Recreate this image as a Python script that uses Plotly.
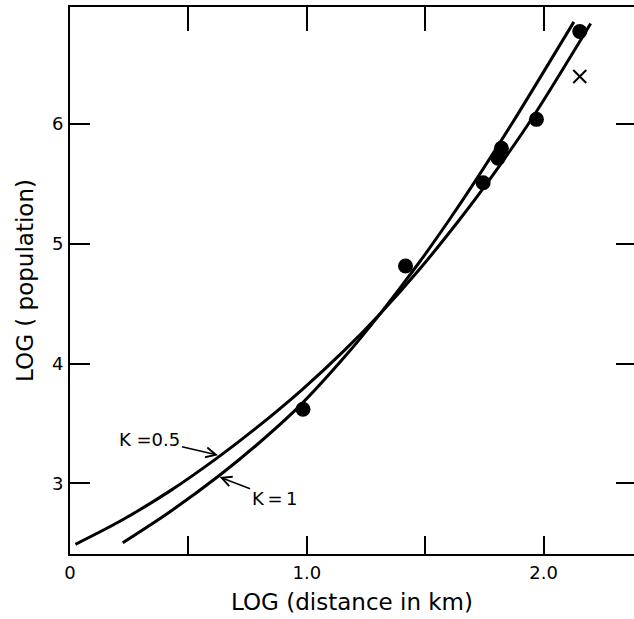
import plotly.graph_objects as go

# observed data (log distance in km, log population)
obs_x = [0.984, 1.417, 1.745, 1.808, 1.822, 1.970, 2.153]
obs_y = [3.618, 4.814, 5.510, 5.714, 5.797, 6.039, 6.772]
cross_x = [2.153]
cross_y = [6.397]

# model curve K = 0.5
k05_x = [0.023, 0.209, 0.421, 0.625, 0.787, 0.977, 1.160, 1.308, 1.477, 1.639, 1.759, 1.956, 2.199]
k05_y = [2.491, 2.681, 2.935, 3.217, 3.463, 3.777, 4.112, 4.412, 4.789, 5.186, 5.500, 6.061, 6.839]

# model curve K = 1
k1_x = [0.223, 0.421, 0.632, 0.787, 0.970, 1.160, 1.308, 1.477, 1.597, 1.710, 1.872, 2.128]
k1_y = [2.504, 2.761, 3.067, 3.318, 3.647, 4.056, 4.411, 4.850, 5.186, 5.519, 6.021, 6.853]

x_tickvals = [0, 0.5, 1.0, 1.5, 2.0]
x_ticktext = ["0", "", "1.0", "", "2.0"]
y_tickvals = [3, 4, 5, 6]
y_ticktext = ["3", "4", "5", "6"]

x_range = [0.0, 2.382]
y_range = [2.410, 6.977]

FONT = "DejaVu Sans"

fig = go.Figure()

fig.add_trace(go.Scatter(x=k05_x, y=k05_y, mode="lines",
                         line=dict(color="black", width=3, shape="spline", smoothing=0.8),
                         hoverinfo="skip", showlegend=False))
fig.add_trace(go.Scatter(x=k1_x, y=k1_y, mode="lines",
                         line=dict(color="black", width=3, shape="spline", smoothing=0.8),
                         hoverinfo="skip", showlegend=False))
fig.add_trace(go.Scatter(x=obs_x, y=obs_y, mode="markers",
                         marker=dict(symbol="circle", size=15, color="black"),
                         showlegend=False))
fig.add_trace(go.Scatter(x=cross_x, y=cross_y, mode="markers",
                         marker=dict(symbol="x-thin", size=13, color="black",
                                     line=dict(color="black", width=2)),
                         showlegend=False))
# dummy trace to activate the mirrored tick axes
fig.add_trace(go.Scatter(x=[None], y=[None], xaxis="x2", yaxis="y2",
                         mode="markers", showlegend=False, hoverinfo="skip"))

fig.add_annotation(x=0.625, y=3.235, ax=-68, ay=-16, text="K =0.5",
                   showarrow=True, arrowhead=5, arrowsize=1.4, arrowwidth=1.4,
                   arrowcolor="black", font=dict(family=FONT, size=18, color="black"))
fig.add_annotation(x=0.632, y=3.052, ax=55, ay=21, text="K\u2009=\u20091",
                   showarrow=True, arrowhead=5, arrowsize=1.4, arrowwidth=1.4,
                   arrowcolor="black", font=dict(family=FONT, size=18, color="black"))

fig.update_layout(
    width=634, height=619,
    margin=dict(l=70, r=0, t=7, b=65),
    paper_bgcolor="white", plot_bgcolor="white",
    font=dict(family=FONT, color="black"),
    xaxis=dict(range=x_range, tickvals=x_tickvals, ticktext=x_ticktext,
               ticks="inside", ticklen=18, tickwidth=2, tickcolor="black",
               showline=True, linewidth=2, linecolor="black",
               showgrid=False, zeroline=False,
               tickfont=dict(family=FONT, size=18, color="black"),
               ticklabelstandoff=1,
               title=dict(text="LOG (distance in km)",
                          font=dict(family=FONT, size=23, color="black"),
                          standoff=12)),
    yaxis=dict(range=y_range, tickvals=y_tickvals, ticktext=y_ticktext,
               ticks="inside", ticklen=20, tickwidth=2, tickcolor="black",
               showline=True, linewidth=2, linecolor="black",
               showgrid=False, zeroline=False,
               tickfont=dict(family=FONT, size=18, color="black"),
               ticklabelstandoff=1,
               title=dict(text="LOG ( population)",
                          font=dict(family=FONT, size=23, color="black"),
                          standoff=12)),
    xaxis2=dict(range=x_range, overlaying="x", side="top", anchor="y",
                tickvals=x_tickvals, showticklabels=False,
                ticks="inside", ticklen=24, tickwidth=2, tickcolor="black",
                showline=True, linewidth=2, linecolor="black",
                showgrid=False, zeroline=False),
    yaxis2=dict(range=y_range, overlaying="y", side="right", anchor="x",
                tickvals=y_tickvals, showticklabels=False,
                ticks="inside", ticklen=18, tickwidth=2, tickcolor="black",
                showline=False, showgrid=False, zeroline=False),
)

fig.write_html("out.html",
               config={"displayModeBar": False},
               post_script="document.body.style.margin='0';document.body.style.padding='0';")
